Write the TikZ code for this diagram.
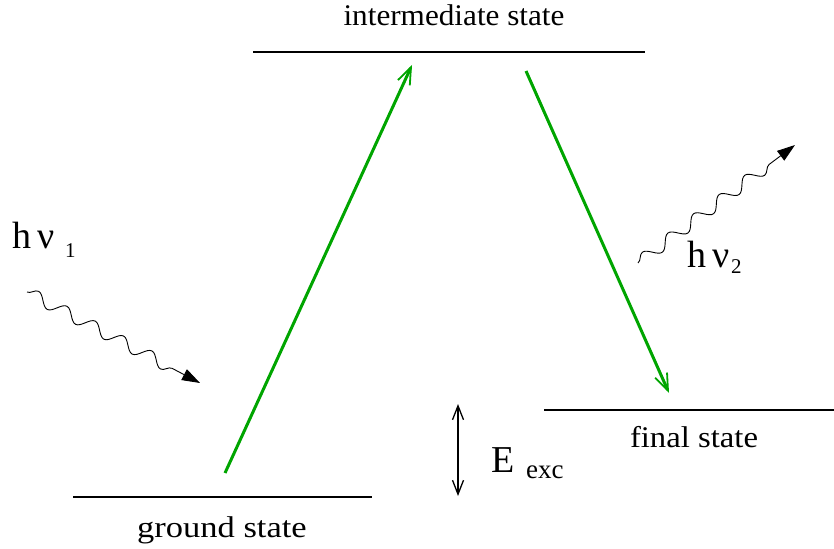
\documentclass[tikz,border=0pt]{standalone}
\usepackage{fontspec}
\setmainfont{Liberation Serif}
\usetikzlibrary{arrows.meta,decorations.pathmorphing}
\definecolor{trgreen}{RGB}{0,165,0}
\tikzset{
  level/.style={line width=1.6pt, black},
  lbl/.style={anchor=base, inner sep=0pt, font=\rmfamily\fontsize{30}{34}\selectfont},
  trans/.style={line width=3pt, trgreen, -{Straight Barb[length=17pt,width=13pt,line width=1.8pt]}},
  photon/.style={line width=0.9pt, black, decorate,
     decoration={snake, amplitude=6pt, segment length=32pt, post length=18pt},
     -{Triangle[length=18pt,width=12pt]}},
  big/.style={inner sep=0pt, font=\rmfamily\fontsize{38}{42}\selectfont},
  sub/.style={inner sep=0pt, font=\rmfamily\fontsize{21}{24}\selectfont},
}
\begin{document}
\begin{tikzpicture}[x=1pt,y=-1pt]
\useasboundingbox (0,0) rectangle (834,548);
% levels
\coordinate (iL) at (253,52);  \coordinate (iR) at (645,52);
\coordinate (gL) at (73,497);  \coordinate (gR) at (372,497);
\coordinate (fL) at (544,410); \coordinate (fR) at (834,410);
\draw[level] (iL) -- (iR);
\draw[level] (gL) -- (gR);
\draw[level] (fL) -- (fR);
\node[lbl] (itext) at (454,26) {\scalebox{1.04}[1]{intermediate state}};
\node[lbl] (gtext) at (222,537) {\scalebox{1.15}[1]{ground state}};
\node[lbl] (ftext) at (694,447) {\scalebox{1.09}[1]{final state}};
% transitions
\coordinate (up0) at (225,473); \coordinate (up1) at (412,65);
\coordinate (dn0) at (526,71);  \coordinate (dn1) at (669,393);
\draw[trans] (up0) -- (up1);
\draw[trans] (dn0) -- (dn1);
% excitation energy
\coordinate (e0) at (458,404); \coordinate (e1) at (458,496);
\draw[line width=1.3pt, {Straight Barb[length=14pt,width=11pt]}-{Straight Barb[length=14pt,width=11pt]}] (e0) -- (e1);
\node[big, anchor=base west] (E) at (491,472) {E};
\node[lbl, anchor=base west, font=\rmfamily\fontsize{27}{30}\selectfont] (exc) at (526,478) {exc};
% photons
\coordinate (p1a) at (27,292); \coordinate (p1b) at (200,383);
\draw[photon] (p1a) -- (p1b);
\node[big, anchor=base west] (hv1) at (12,248) {h\,ν};
\node[sub, anchor=base west] (s1) at (65,257) {1};
\coordinate (p2a) at (638,263); \coordinate (p2b) at (795,145);
\draw[photon] (p2a) -- (p2b);
\node[big, anchor=base west] (hv2) at (687,267) {h\,ν};
\node[sub, anchor=base west] (s2) at (731,273) {2};
\end{tikzpicture}
\end{document}
